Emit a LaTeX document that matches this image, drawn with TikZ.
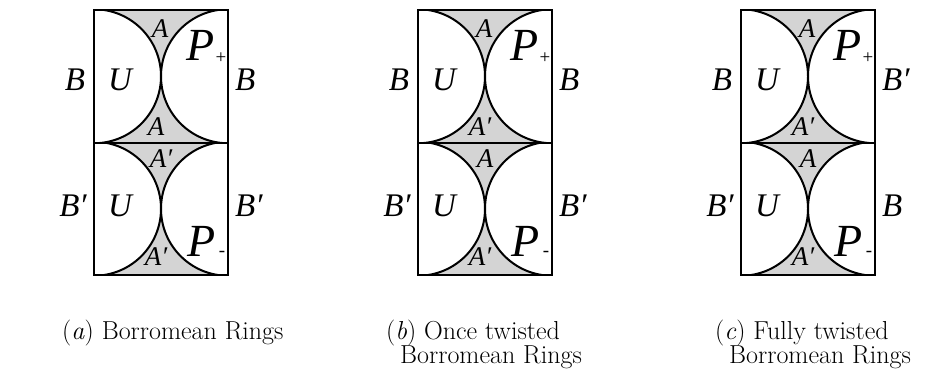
\documentclass[tikz,border=0pt]{standalone}
\usepackage{fontspec}
\newfontfamily\tms{Liberation Serif}[ItalicFont={Liberation Serif Italic}]
\definecolor{shadegray}{gray}{0.83}
\tikzset{
  lab/.style={font=\tms\itshape\fontsize{33}{36}\selectfont, inner sep=0pt},
  smalllab/.style={font=\tms\itshape\fontsize{27}{30}\selectfont, inner sep=0pt},
  biglab/.style={font=\tms\itshape\fontsize{46}{48}\selectfont, inner sep=0pt},
  sublab/.style={font=\tms\fontsize{19}{20}\selectfont, inner sep=0pt},
  captext/.style={font=\fontsize{26}{30}\selectfont, inner sep=0pt, anchor=base west},
  edgeline/.style={line width=2pt},
}
\newcommand{\brhalf}[2]{%
  \begin{scope}
    \clip (#1,#2) rectangle ++(134,132.5);
    \fill[shadegray] (#1,#2) rectangle ++(134,132.5);
    \filldraw[fill=white, edgeline] (#1,#2+66.25) circle (67);
    \filldraw[fill=white, edgeline] (#1+134,#2+66.25) circle (67);
  \end{scope}
}
% #1 = left x, #2 = name prefix, #3 = lower label of top half,
% #4 = right label of top half, #5 = upper label of bottom half, #6 = right label of bottom half
\newcommand{\brpanel}[6]{%
  \brhalf{#1}{10}
  \brhalf{#1}{142.5}
  \draw[edgeline] (#1,10) rectangle (#1+134,275);
  \draw[edgeline] (#1,142.5) -- (#1+134,142.5);
  \node[lab] (#2-bl1) at (#1-19,80) {B};
  \node[lab] (#2-u1) at (#1+26,80) {U};
  \node[smalllab] (#2-at1) at (#1+66,29) {A};
  \node[smalllab] (#2-ab1) at (#1+62,127) {#3};
  \node[biglab] (#2-p1) at (#1+107,45) {P};
  \node[sublab] (#2-s1) at (#1+127,58) {+};
  \node[lab, anchor=west] (#2-br1) at (#1+141,80) {#4};
  \node[lab] (#2-bl2) at (#1-21,206) {B′};
  \node[lab] (#2-u2) at (#1+26,206) {U};
  \node[smalllab] (#2-at2) at (#1+67,159) {#5};
  \node[smalllab] (#2-ab2) at (#1+62,257) {A′};
  \node[biglab] (#2-p2) at (#1+108,241) {P};
  \node[sublab] (#2-s2) at (#1+128,254) {-};
  \node[lab, anchor=west] (#2-br2) at (#1+141,206) {#6};
}
\begin{document}
\begin{tikzpicture}[x=1pt,y=-1pt]
  \useasboundingbox (0,0) rectangle (943,369);
  \brpanel{94}{pa}{A}{B}{A′}{B′}
  \brpanel{418}{pb}{A′}{B}{A}{B′}
  \brpanel{741}{pc}{A′}{B′}{A}{B}
  \node[captext] (capa) at (62,339) {(\textit{a}) Borromean Rings};
  \node[captext] (capb1) at (386,339) {(\textit{b}) Once twisted};
  \node[captext] (capb2) at (400,363) {Borromean Rings};
  \node[captext] (capc1) at (715,339) {(\textit{c}) Fully twisted};
  \node[captext] (capc2) at (729,363) {Borromean Rings};
\end{tikzpicture}
\end{document}
